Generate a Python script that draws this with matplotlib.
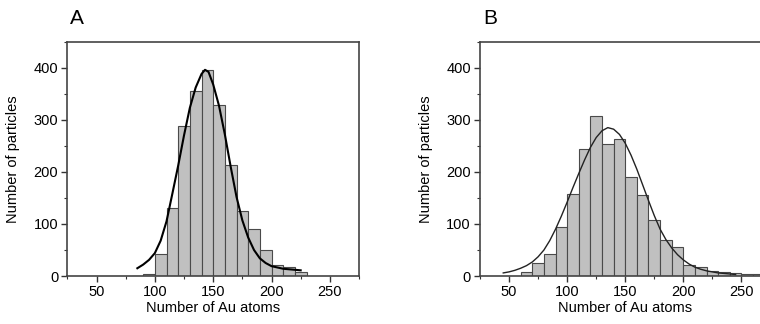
import matplotlib.pyplot as plt
from matplotlib.ticker import MultipleLocator

plt.rcParams['font.family'] = ['Liberation Sans', 'DejaVu Sans']

# histogram bins (left edges, width 10) and counts
bins_a = [80, 90, 100, 110, 120, 130, 140, 150, 160, 170, 180, 190, 200, 210, 220]
counts_a = [1, 3, 42, 131, 288, 356, 396, 329, 214, 124, 91, 50, 22, 17, 7]

bins_b = [60, 70, 80, 90, 100, 110, 120, 130, 140, 150, 160, 170, 180, 190,
          200, 210, 220, 230, 240, 250, 260]
counts_b = [7, 26, 43, 95, 158, 243, 308, 253, 264, 190, 156, 108, 70, 56,
            22, 18, 10, 7, 6, 4, 4]

# fitted curves, points
fit_x_a = [85, 90, 95, 100, 105, 110, 115, 120, 125, 130, 135, 140, 143, 146,
           150, 155, 160, 165, 170, 175, 180, 185, 190, 195, 200, 210, 220, 225]
fit_y_a = [15, 22, 31, 44, 68, 105, 158, 212, 270, 323, 362, 388, 396, 392,
           368, 327, 272, 210, 152, 107, 74, 50, 34, 25, 19, 14, 12, 11]

fit_x_b = [45, 50, 55, 60, 65, 70, 75, 80, 85, 90, 95, 100, 105, 110, 115, 120,
           125, 130, 135, 140, 145, 150, 155, 160, 165, 170, 175, 180, 185, 190,
           195, 200, 205, 210, 215, 220, 230, 240, 245]
fit_y_b = [6, 8, 11, 15, 20, 27, 37, 50, 68, 90, 115, 142, 170, 197, 223, 247,
           266, 279, 285, 282, 272, 255, 232, 205, 175, 145, 116, 90, 70, 54,
           41, 31, 23, 17, 13, 10, 6, 4, 3]

fig = plt.figure(figsize=(7.6, 3.24), dpi=100)
ax_a = fig.add_axes([0.0886, 0.148, 0.3838, 0.7233])
ax_b = fig.add_axes([0.6316, 0.148, 0.3822, 0.7233])

panels = [(ax_a, bins_a, counts_a, fit_x_a, fit_y_a, 'A', 1.5, 'black'),
          (ax_b, bins_b, counts_b, fit_x_b, fit_y_b, 'B', 1.0, '#222222')]

for ax, b, c, fx, fy, letter, lw, lc in panels:
    ax.bar(b, c, width=10, align='edge', color='#c0c0c0',
           edgecolor='#4a4a4a', linewidth=0.8, zorder=2)
    ax.plot(fx, fy, color=lc, linewidth=lw, zorder=3)
    ax.set_xlim(25, 275)
    ax.set_ylim(0, 450)
    ax.xaxis.set_major_locator(MultipleLocator(50))
    ax.xaxis.set_minor_locator(MultipleLocator(25))
    ax.yaxis.set_major_locator(MultipleLocator(100))
    ax.yaxis.set_minor_locator(MultipleLocator(50))
    ax.tick_params(which='major', length=4.5, width=1, color='#333333',
                   labelsize=10.5, pad=2)
    ax.tick_params(which='minor', length=2.5, width=0.8, color='#333333')
    for s in ax.spines.values():
        s.set_linewidth(1.2)
        s.set_color('#444444')
    ax.set_xlabel('Number of Au atoms', fontsize=10.5)
    ax.set_ylabel('Number of particles', fontsize=10.5)
    ax.xaxis.set_label_coords(0.5, -0.105)
    ax.yaxis.set_label_coords(-0.162, 0.5)
    ax.text(0.01, 1.06, letter, transform=ax.transAxes, fontsize=15,
            ha='left', va='bottom')

fig.savefig('out.png', dpi=100)
